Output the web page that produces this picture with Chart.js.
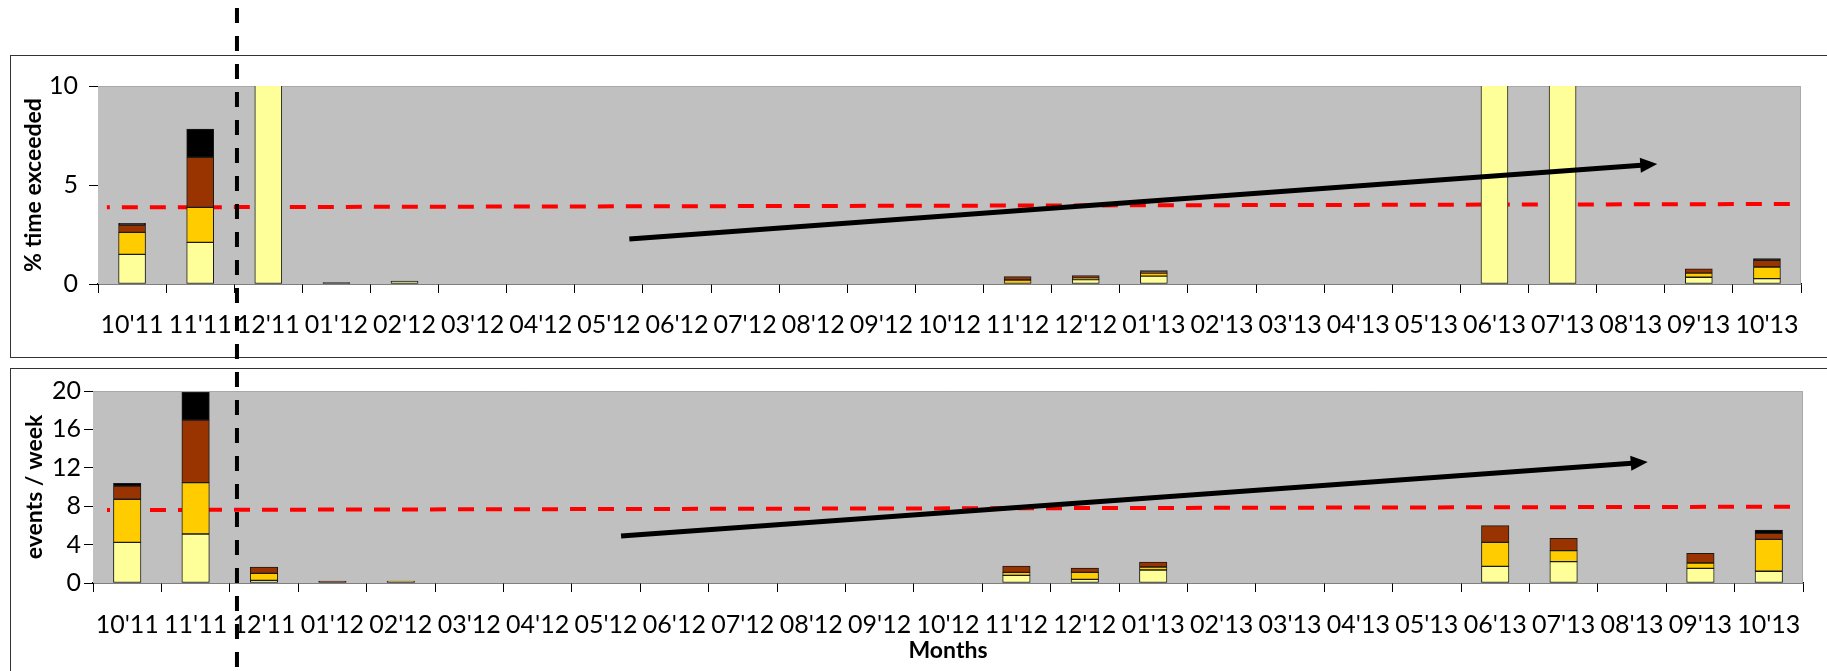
<!DOCTYPE html>
<html>
<head>
<meta charset="utf-8">
<script src="https://cdn.jsdelivr.net/npm/chart.js@4.4.1/dist/chart.umd.min.js"></script>
<style>
  html, body { margin:0; padding:0; background:#fff; }
  body { width:1827px; height:671px; position:relative; overflow:hidden; }
  .panel { position:absolute; border:1.5px solid #333; box-sizing:border-box; }
  #p1 { left:10px; top:55px; width:1840px; height:303px; }
  #p2 { left:10px; top:368px; width:1840px; height:320px; }
  canvas { position:absolute; left:0; }
  #c1 { top:0; }
  #c2 { top:362px; }
</style>
</head>
<body>
<div class="panel" id="p1"></div>
<div class="panel" id="p2"></div>
<canvas id="c1" width="1827" height="362"></canvas>
<canvas id="c2" width="1827" height="309"></canvas>
<script>
// ---- Categories ----
const months = ["10'11","11'11","12'11","01'12","02'12","03'12","04'12","05'12","06'12","07'12","08'12","09'12","10'12","11'12","12'12","01'13","02'13","03'13","04'13","05'13","06'13","07'13","08'13","09'13","10'13"];

// ---- Top panel: % time exceeded (stack segments) ----
const topLight  = [1.5, 2.1, 10.5, 0, 0.15, 0,0,0,0,0,0,0,0, 0, 0.22, 0.4, 0,0,0,0, 10.5, 10.5, 0, 0.34, 0.27];
const topGold   = [1.11, 1.77, 0, 0, 0, 0,0,0,0,0,0,0,0, 0.2, 0.08, 0.15, 0,0,0,0, 0, 0, 0, 0.21, 0.59];
const topBrown  = [0.37, 2.53, 0, 0, 0, 0,0,0,0,0,0,0,0, 0.17, 0.12, 0.08, 0,0,0,0, 0, 0, 0, 0.21, 0.34];
const topBlack  = [0.08, 1.43, 0, 0.07, 0, 0,0,0,0,0,0,0,0, 0, 0, 0.05, 0,0,0,0, 0, 0, 0, 0, 0.08];
const topTicks  = [0, 5, 10];
const topRef    = [{x:-0.37, y:3.87}, {x:24.34, y:4.04}];
const topArrow  = [{x:7.3, y:2.27}, {x:22.39, y:6.06}];

// ---- Bottom panel: events / week (stack segments) ----
const botLight  = [4.24, 5.1, 0.28, 0, 0, 0,0,0,0,0,0,0,0, 0.8, 0.38, 1.35, 0,0,0,0, 1.74, 2.22, 0, 1.53, 1.22];
const botGold   = [4.48, 5.35, 0.72, 0, 0.2, 0,0,0,0,0,0,0,0, 0.31, 0.73, 0.32, 0,0,0,0, 2.5, 1.15, 0, 0.55, 3.33];
const botBrown  = [1.38, 6.53, 0.67, 0.2, 0, 0,0,0,0,0,0,0,0, 0.66, 0.45, 0.52, 0,0,0,0, 1.73, 1.28, 0, 1.01, 0.62];
const botBlack  = [0.28, 2.88, 0, 0, 0, 0,0,0,0,0,0,0,0, 0, 0, 0, 0,0,0,0, 0, 0, 0, 0, 0.35];
const botTicks  = [0, 4, 8, 12, 16, 20];
const botRef    = [{x:-0.295, y:7.6}, {x:24.31, y:7.95}];
const botArrow  = [{x:7.22, y:4.9}, {x:22.23, y:12.6}];

// divider position (category-boundary units on top chart)
const dividerAt = 1.54;

const COLORS = { light:'#FFFF99', gold:'#FFCC00', brown:'#993300', black:'#000000' };

Chart.defaults.font.family = "Lato, 'Open Sans', sans-serif";
Chart.defaults.color = '#000';

function nz(a){ return a.map(v => v ? v : null); }

function barSets(l,g,b,k,thick){
  const mk = (label, data, color) => ({
    type:'bar', label, data:nz(data), backgroundColor:color, borderColor:'#1a1a1a',
    borderWidth:1, borderSkipped:false, stack:'s', grouped:false, xAxisID:'x', yAxisID:'y',
    barThickness:thick
  });
  return [mk('a',l,COLORS.light), mk('b',g,COLORS.gold), mk('c',b,COLORS.brown), mk('d',k,COLORS.black)];
}

const bgPlugin = {
  id:'bgPlot',
  beforeDatasetsDraw(chart){
    const a = chart.chartArea, ctx = chart.ctx;
    ctx.save();
    ctx.fillStyle = '#C0C0C0';
    ctx.fillRect(a.left, a.top, a.right - a.left, a.bottom - a.top);
    ctx.strokeStyle = '#a8a8a8'; ctx.lineWidth = 1;
    ctx.beginPath();
    ctx.moveTo(a.left, a.top + 0.5); ctx.lineTo(a.right - 0.5, a.top + 0.5); ctx.lineTo(a.right - 0.5, a.bottom);
    ctx.stroke();
    ctx.restore();
  }
};

const arrowPlugin = {
  id:'arrowHead',
  afterDatasetsDraw(chart){
    chart.data.datasets.forEach((ds, i) => {
      if (ds.label !== 'arrow') return;
      const pts = chart.getDatasetMeta(i).data;
      if (pts.length < 2) return;
      const p0 = pts[0], p1 = pts[1];
      const dx = p1.x - p0.x, dy = p1.y - p0.y, len = Math.hypot(dx, dy);
      const ux = dx/len, uy = dy/len;
      const head = 17, half = 7.5;
      const bx = p1.x - ux*head, by = p1.y - uy*head;
      const ctx = chart.ctx;
      ctx.save();
      ctx.strokeStyle = '#000'; ctx.lineWidth = 5; ctx.lineCap = 'butt';
      ctx.beginPath(); ctx.moveTo(p0.x, p0.y); ctx.lineTo(bx + ux, by + uy); ctx.stroke();
      ctx.fillStyle = '#000';
      ctx.beginPath();
      ctx.moveTo(p1.x, p1.y);
      ctx.lineTo(bx - uy*half, by + ux*half);
      ctx.lineTo(bx + uy*half, by - ux*half);
      ctx.closePath(); ctx.fill();
      ctx.restore();
    });
  }
};

function makeDivider(getX, canvasTop){
  return {
    id:'divider',
    afterDraw(chart){
      const x = getX(chart);
      const ctx = chart.ctx;
      ctx.save();
      ctx.strokeStyle = '#000'; ctx.lineWidth = 4;
      ctx.setLineDash([15, 13]);
      ctx.lineDashOffset = (canvasTop + 20) % 28;
      ctx.beginPath(); ctx.moveTo(x, 0); ctx.lineTo(x, chart.height); ctx.stroke();
      ctx.restore();
    }
  };
}

function makeChart(canvasId, cfg){
  const datasets = barSets(cfg.l, cfg.g, cfg.b, cfg.k, cfg.thick).concat([
    { type:'line', label:'ref', data:cfg.ref, xAxisID:'xl', yAxisID:'y', stack:'ref',
      borderColor:'#FF0000', borderWidth:4, borderDash:[16,12], borderDashOffset:13,
      pointRadius:0, fill:false, tension:0 },
    { type:'line', label:'arrow', data:cfg.arrow, xAxisID:'xl', yAxisID:'y', stack:'arrow',
      showLine:false, pointRadius:0, borderWidth:0 }
  ]);
  return new Chart(document.getElementById(canvasId), {
    type:'bar',
    data:{ labels:months, datasets },
    options:{
      responsive:false, animation:false, devicePixelRatio:1,
      layout:{ padding:{ left:0, top:cfg.padTop, right:cfg.padRight, bottom:0 } },
      plugins:{ legend:{display:false}, tooltip:{enabled:false} },
      scales:{
        x:{
          type:'category', stacked:true, offset:true,
          grid:{ display:true, drawOnChartArea:false, drawTicks:true, tickLength:9, color:'#000', offset:true },
          border:{ display:true, color:'#000', width:1.5 },
          ticks:{ font:{size:25}, padding:cfg.xPad, maxRotation:0, autoSkip:false, color:'#000' },
          title: cfg.xTitle ? { display:true, text:cfg.xTitle, font:{size:23, weight:'bold'}, padding:{top:0, bottom:cfg.xTitlePad}, color:'#000' } : {display:false},
          afterFit(s){ s.height = cfg.xHeight; }
        },
        xl:{ type:'linear', display:false, min:-0.5, max:24.5, offset:false, grid:{offset:false}, stacked:false },
        y:{
          stacked:true, min:0, max:cfg.ymax,
          afterBuildTicks(s){ s.ticks = cfg.ticks.map(v => ({value:v})); },
          grid:{ display:true, drawOnChartArea:false, drawTicks:true, tickLength:9, color:'#000' },
          border:{ display:true, color:'#000', width:1 },
          ticks:{ font:{size:25}, padding:cfg.yPad, color:'#000' },
          title:{ display:true, text:cfg.yTitle, font:{size:23, weight:'bold'}, padding:{top:cfg.yTitlePad, bottom:0}, color:'#000' },
          afterFit(s){ s.width = cfg.yWidth; }
        }
      }
    },
    plugins:[bgPlugin, arrowPlugin, cfg.divider]
  });
}

let topChart = null;
topChart = makeChart('c1', {
  l:topLight, g:topGold, b:topBrown, k:topBlack, ref:topRef, arrow:topArrow,
  ymax:10, ticks:topTicks, yTitle:'% time exceeded', thick:27,
  padTop:86, padRight:26, xHeight:78, yWidth:98, xPad:17, yPad:11, yTitlePad:20,
  divider: makeDivider(ch => ch.scales.xl.getPixelForValue(dividerAt), 0)
});
makeChart('c2', {
  l:botLight, g:botGold, b:botBrown, k:botBlack, ref:botRef, arrow:botArrow,
  ymax:20, ticks:botTicks, yTitle:'events / week', xTitle:'Months', xTitlePad:7, thick:27.5,
  padTop:29, padRight:24, xHeight:88, yWidth:93, xPad:18, yPad:3, yTitlePad:21,
  divider: makeDivider(ch => topChart.scales.xl.getPixelForValue(dividerAt), 362)
});
</script>
</body>
</html>
